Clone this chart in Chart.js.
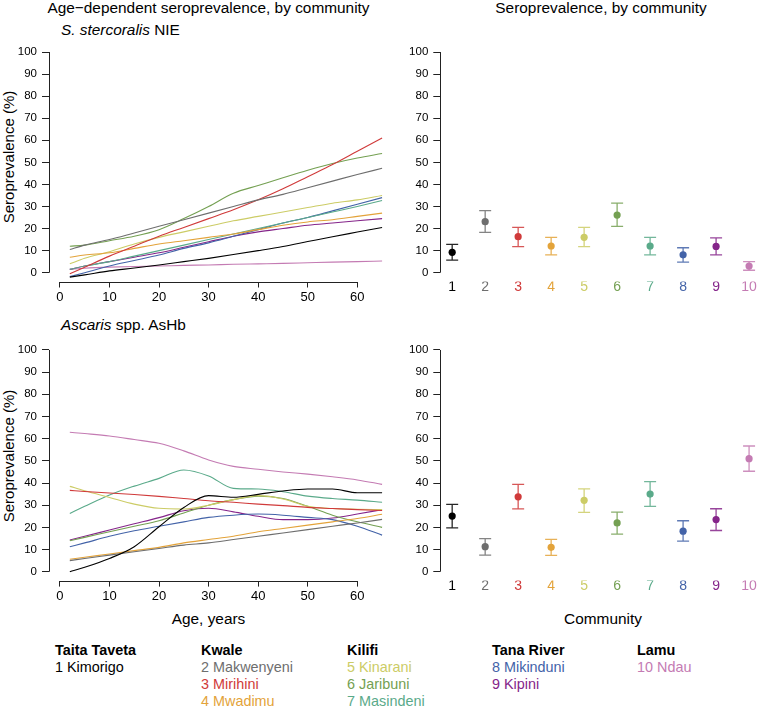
<!DOCTYPE html>
<html><head><meta charset="utf-8">
<script src="https://cdn.jsdelivr.net/npm/chart.js@4"></script>
<style>
body{margin:0;background:#fff;width:757px;height:707px;overflow:hidden;position:relative;font-family:"Liberation Sans",Arial,sans-serif;color:#000;}
canvas{position:absolute;}
.t{position:absolute;white-space:nowrap;line-height:1;}
.c{transform:translate(-50%,-50%);}
.l{transform:translateY(-50%);}
.r{transform:translate(-50%,-50%) rotate(-90deg);}
</style></head><body>
<div id="texts"></div>
<canvas id="tl" width="400" height="290" style="left:0;top:30px"></canvas>
<canvas id="tr" width="377" height="290" style="left:380px;top:30px"></canvas>
<canvas id="bl" width="400" height="290" style="left:0;top:328px"></canvas>
<canvas id="br" width="377" height="290" style="left:380px;top:328px"></canvas>
<script>
// ---- data ----
const communities = ['Kimorigo','Makwenyeni','Mirihini','Mwadimu','Kinarani','Jaribuni','Masindeni','Mikinduni','Kipini','Ndau'];
const counties = ['Taita Taveta','Kwale','Kilifi','Tana River','Lamu'];
const countyOf = [0,1,1,1,2,2,2,3,3,4];
const colors = ['#000000','#6e6e6e','#d03a3a','#e3a33a','#cccc66','#74a052','#5aaa8a','#4363a8','#85258a','#c47bb3'];
const ages = [2,5,10,15,20,25,30,35,40,45,50,55,60,65];
const ageTicks = [0,10,20,30,40,50,60];
const pctTicks = [0,10,20,30,40,50,60,70,80,90,100];
const communityTicks = [1,2,3,4,5,6,7,8,9,10];

// S. stercoralis NIE age curves
const ss1  = [-2,-1,0.8,2.1,3.5,5,6.5,8.2,10,11.9,14.1,16.3,18.4,20.5];
const ss2  = [10.5,12.5,15,18,21,24,27,30,33,35.5,38.5,41.5,44.5,47.3];
const ss3  = [-0.5,2.5,7.5,12,16.5,20.5,24.5,28.5,33,38,43.5,49,55,61];
const ss4  = [7,8,9,11,13,14.5,16,17.5,19.5,21.5,23,24,25.5,27];
const ss5  = [4,6.5,9.5,13,16,18.5,21,23.5,25.5,27.5,29.5,31.5,33,35];
const ss6  = [12,12.5,14.5,16.5,19.5,24.5,30,36,39.5,43,46.4,49.5,52,54];
const ss7  = [1.5,3,5,7.5,10,12.5,15,17.5,20,22.5,25,27.5,30,32.7];
const ss8  = [-1.8,0,3,5.5,8,11,13.5,16.5,19.5,22.5,25,28,31,34];
const ss9  = [1.5,3,5,7,9,11.5,14,16.5,18.5,20,21.5,22.5,23.5,24.5];
const ss10 = [1.5,2,2.5,2.8,3,3.3,3.5,3.8,4,4.2,4.5,4.8,5,5.3];
// Ascaris spp. AsHb age curves
const as1  = [0,2,6,11.3,20.3,29,34.3,33.6,34.9,36.4,37.3,37.3,35.6,35.6];
const as2  = [5,6,7.5,9,10.5,12,13,14.5,16,17.5,19,20.5,22,23.6];
const as3  = [36.7,36.2,35.5,34.8,34,33,32,31.3,30.5,29.8,29,28.5,28,27.6];
const as4  = [5.6,6.5,8,9.5,11,13,14.5,16,18,19.5,21,22.5,24,25.9];
const as5  = [38.5,36.5,33.5,30.5,28.6,28.3,30,32.5,34.3,32.8,29.5,28.5,28.2,28];
const as6  = [14,15.5,18,20.5,23,26.5,30,32.5,34.1,33,29.5,25.5,22.5,20];
const as7  = [26.3,29.5,34.6,38.6,42.1,45.9,43.2,37.6,37.3,36.1,34.1,33,32.3,31.3];
const as8  = [11.3,13,16,18.5,20.5,22.5,24.5,25.5,26,25.5,24.5,23.5,20.5,16.5];
const as9  = [14.3,16,18.8,21.6,24.4,27.5,28.6,27,25,23.5,23.5,24.2,26,28];
const as10 = [62.9,62.3,61.2,59.6,57.9,54.5,50.4,47.5,46.2,45,44,42.8,41.4,39.4];
// Overall seroprevalence by community (estimate, lower, upper)
const ssPrev = [9.2,23.1,16.3,12.1,16,26.1,12.1,8.1,11.9,3];
const ssLo   = [5.7,18.3,11.8,8.1,11.8,21,8.1,4.8,8.1,1.1];
const ssHi   = [12.8,28.1,20.5,16,20.5,31.5,16,11.3,15.8,5];
const asPrev = [25.1,11.3,33.8,11,32.2,22,35,18.3,23.5,51];
const asLo   = [19.8,7.5,28.3,7.4,26.8,17,29.5,13.8,18.6,45.3];
const asHi   = [30.4,14.9,39.4,14.6,37.4,26.9,40.6,23,28.4,56.7];

const ssCurves = [ss1,ss2,ss3,ss4,ss5,ss6,ss7,ss8,ss9,ss10];
const asCurves = [as1,as2,as3,as4,as5,as6,as7,as8,as9,as10];

// ---- rendering ----
const FAM = '"Liberation Sans", Arial, sans-serif';
Chart.defaults.font.family = FAM;

const rAxis = {
  id:'rAxis',
  afterDraw(chart, args, opts){
    const {ctx, scales:{x,y}, chartArea} = chart;
    ctx.save(); ctx.strokeStyle='#222'; ctx.lineWidth=1;
    ctx.beginPath();
    const lx = Math.round(chartArea.left)+0.5;
    ctx.moveTo(lx, y.getPixelForValue(pctTicks[0])); ctx.lineTo(lx, y.getPixelForValue(pctTicks[pctTicks.length-1]));
    if (opts.xAxis){
      const by = Math.round(chartArea.bottom)+0.5;
      ctx.moveTo(x.getPixelForValue(ageTicks[0]), by); ctx.lineTo(x.getPixelForValue(ageTicks[ageTicks.length-1]), by);
    }
    ctx.stroke(); ctx.restore();
  }
};
const errBars = {
  id:'errBars',
  beforeDatasetsDraw(chart){
    const {ctx, scales:{x,y}} = chart;
    chart.data.datasets.forEach(ds=>{
      if(!ds.lo) return;
      ds.data.forEach((p,i)=>{
        const px = x.getPixelForValue(p.x), y1 = y.getPixelForValue(ds.lo[i]), y2 = y.getPixelForValue(ds.hi[i]);
        ctx.save(); ctx.strokeStyle = colors[i]; ctx.globalAlpha = 0.85; ctx.lineWidth = 1.3;
        ctx.beginPath();
        ctx.moveTo(px,y1); ctx.lineTo(px,y2);
        ctx.moveTo(px-6,y1); ctx.lineTo(px+6,y1);
        ctx.moveTo(px-6,y2); ctx.lineTo(px+6,y2);
        ctx.stroke(); ctx.restore();
      });
    });
  }
};

function yScale(width, padTop){
  return {
    type:'linear', min:-4, max:104,
    afterBuildTicks: s=>{ s.ticks = pctTicks.map(v=>({value:v})); },
    afterFit: s=>{ s.width = width; },
    grid:{drawOnChartArea:false, drawTicks:true, tickLength:7, color:'#222', lineWidth:1},
    border:{display:false},
    ticks:{font:{size:11.5, family:FAM}, color:'#000', padding:5, autoSkip:false}
  };
}

function agePanel(id, curves, padTop, xH){
  new Chart(document.getElementById(id), {
    type:'line',
    data:{datasets: curves.map((vals,i)=>({
      data: ages.map((a,j)=>({x:a, y:vals[j]})),
      borderColor: colors[i], borderWidth:1.1, pointRadius:0, fill:false,
      cubicInterpolationMode:'monotone'
    }))},
    options:{
      responsive:false, animation:false, events:[],
      layout:{padding:{left:0,right:8,top:padTop,bottom:0}, autoPadding:false},
      plugins:{legend:{display:false}, tooltip:{enabled:false}, rAxis:{xAxis:true}},
      scales:{
        x:{type:'linear', min:-2.2, max:67,
           afterBuildTicks: s=>{ s.ticks = ageTicks.map(v=>({value:v})); },
           afterFit: s=>{ s.height = xH; },
           grid:{drawOnChartArea:false, drawTicks:true, tickLength:6, color:'#222', lineWidth:1},
           border:{display:false},
           ticks:{font:{size:13, family:FAM}, color:'#000', padding:2, maxRotation:0, autoSkip:false}},
        y: yScale(49, padTop)
      }
    },
    plugins:[rAxis]
  });
}

function prevPanel(id, prev, lo, hi, padTop, xH){
  new Chart(document.getElementById(id), {
    type:'scatter',
    data:{datasets:[{
      data: communityTicks.map((c,i)=>({x:c, y:prev[i]})),
      lo, hi,
      pointBackgroundColor: colors, pointBorderWidth:0, pointRadius:3.6
    }]},
    options:{
      responsive:false, animation:false, events:[],
      layout:{padding:{left:0,right:1,top:padTop,bottom:0}, autoPadding:false},
      plugins:{legend:{display:false}, tooltip:{enabled:false}, rAxis:{xAxis:false}},
      scales:{
        x:{type:'linear', min:0.64, max:10.21,
           afterBuildTicks: s=>{ s.ticks = communityTicks.map(v=>({value:v})); },
           afterFit: s=>{ s.height = xH; },
           grid:{display:false, drawTicks:false},
           border:{display:false},
           ticks:{font:{size:14, family:FAM}, color: c=>colors[c.index], padding:-3, maxRotation:0, autoSkip:false}},
        y: yScale(60.3, padTop)
      }
    },
    plugins:[errBars, rAxis]
  });
}

agePanel('tl', ssCurves, 13.2, 38.5);
agePanel('bl', asCurves, 13.1, 37.4);
prevPanel('tr', ssPrev, ssLo, ssHi, 13.2, 38.5);
prevPanel('br', asPrev, asLo, asHi, 13.1, 37.4);

// ---- texts ----
const T = document.getElementById('texts');
function txt(html, x, y, size, cls, extra){
  const d = document.createElement('div');
  d.className = 't ' + cls;
  d.style.left = x+'px'; d.style.top = y+'px'; d.style.fontSize = size+'px';
  if (extra) Object.assign(d.style, extra);
  d.innerHTML = html; T.appendChild(d);
}
txt('Age\u2212dependent seroprevalence, by community', 208.5, 8, 15.4, 'c');
txt('Seroprevalence, by community', 601, 8, 15.4, 'c');
txt('<i>S. stercoralis</i> NIE', 61, 30, 15.4, 'l');
txt('<i>Ascaris</i> spp. AsHb', 61, 325, 15.4, 'l');
txt('Seroprevalence (%)', 8, 157, 15, 'r');
txt('Seroprevalence (%)', 8, 456, 15, 'r');
txt('Age, years', 208.5, 619, 15.4, 'c');
txt('Community', 603, 619, 15.4, 'c');
const colX = [55,201,347,492,637];
const rowY = [650,667,684,701];
counties.forEach((c,k)=>txt(c, colX[k], rowY[0], 14.4, 'l', {fontWeight:'bold'}));
const rowCount = [0,0,0,0,0];
communities.forEach((n,i)=>{
  const k = countyOf[i];
  rowCount[k]++;
  txt((i+1)+' '+n, colX[k], rowY[rowCount[k]], 14.4, 'l', {color:colors[i]});
});
</script>
</body></html>
